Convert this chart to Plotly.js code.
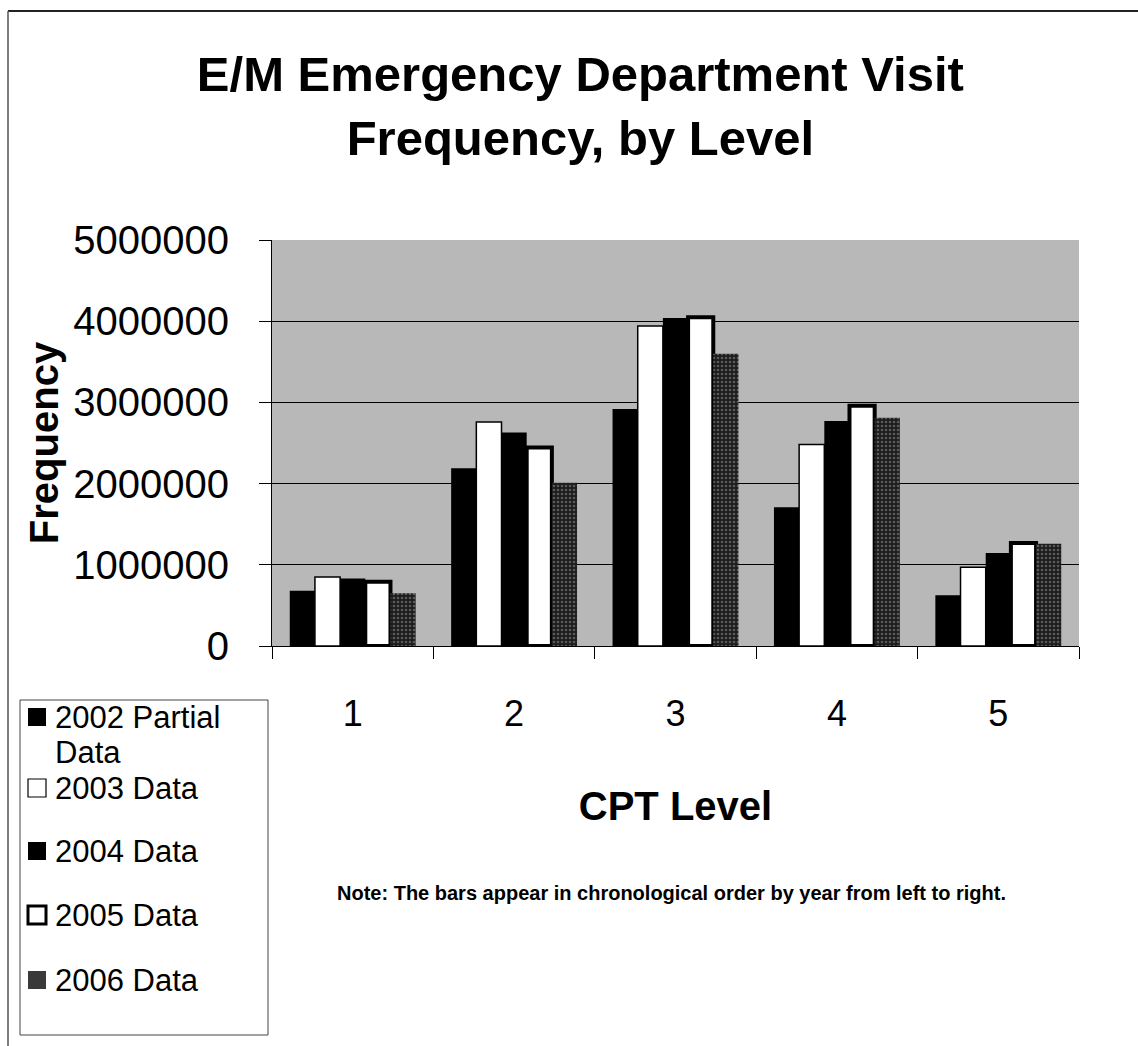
<!DOCTYPE html>
<html>
<head>
<meta charset="utf-8">
<script src="https://cdn.plot.ly/plotly-3.0.1.min.js"></script>
<style>
  html, body { margin: 0; padding: 0; background: #ffffff; }
  #chart { width: 1138px; height: 1046px; }
</style>
</head>
<body>
<div id="chart"></div>
<script>
// ---- data ----
const categories = ['1', '2', '3', '4', '5'];
const seriesNames = ['2002 Partial<br>Data', '2003 Data', '2004 Data', '2005 Data', '2006 Data'];
const data2002 = [680000, 2190000, 2920000, 1710000, 626000];
const data2003 = [850000, 2760000, 3940000, 2480000, 970000];
const data2004 = [830000, 2630000, 4040000, 2770000, 1145000];
const data2005 = [790000, 2445000, 4050000, 2960000, 1270000];
const data2006 = [650000, 2010000, 3600000, 2810000, 1260000];
const yTickVals = [0, 1000000, 2000000, 3000000, 4000000, 5000000];
const yTickText = ['0', '1000000', '2000000', '3000000', '4000000', '5000000'];

// ---- styling ----
const FONT = 'Liberation Sans, Arial, Helvetica, sans-serif';
const W = 1138, H = 1046;
const M = { l: 272, r: 59, t: 240, b: 400 };
const PW = W - M.l - M.r, PH = H - M.t - M.b;
const px = x => (x - M.l) / PW;
const py = y => (H - M.b - y) / PH;

const styles = [
  { color: '#000000', line: { color: '#000000', width: 0 } },
  { color: '#ffffff', line: { color: '#000000', width: 1.5 } },
  { color: '#000000', line: { color: '#000000', width: 0 } },
  { color: '#ffffff', line: { color: '#000000', width: 4 } },
  { color: '#202020', line: { color: '#202020', width: 0 },
    pattern: { shape: '.', fgcolor: '#5a5a5a', bgcolor: '#1c1c1c', size: 4, solidity: 0.35 } }
];
const values = [data2002, data2003, data2004, data2005, data2006];

const traces = values.map((v, i) => ({
  type: 'bar',
  x: categories,
  y: v,
  name: seriesNames[i],
  marker: styles[i],
  showlegend: false,
  hoverinfo: 'x+y+name'
}));

// manual legend (box + swatches + labels)
const shapes = [
  // outer page frame (top and left)
  { type: 'line', xref: 'paper', yref: 'paper', x0: px(8), x1: px(1138), y0: py(11), y1: py(11),
    line: { color: '#222', width: 2 } },
  { type: 'line', xref: 'paper', yref: 'paper', x0: px(8), x1: px(8), y0: py(11), y1: py(1046),
    line: { color: '#555', width: 1.5 } },
  // legend box
  { type: 'rect', xref: 'paper', yref: 'paper', x0: px(20), x1: px(268), y0: py(700), y1: py(1035),
    line: { color: '#444', width: 1 }, fillcolor: 'rgba(255,255,255,0)' }
];
const legendY = [717, 788, 851, 915, 980];
const annotations = [];
legendY.forEach((yy, i) => {
  const st = styles[i];
  const sw = (i === 3) ? 3 : (i === 1 ? 1.2 : 0);
  shapes.push({
    type: 'rect', xref: 'paper', yref: 'paper',
    x0: px(28), x1: px(46), y0: py(yy - 9), y1: py(yy + 9),
    fillcolor: i === 4 ? '#3a3a3a' : st.color,
    line: { color: '#000', width: sw }
  });
  seriesNames[i].split('<br>').forEach((line, k) => {
    annotations.push({
      xref: 'paper', yref: 'paper', x: px(53), y: py(yy + k * 35), xanchor: 'left', yanchor: 'middle',
      text: line, showarrow: false, align: 'left', valign: 'middle', height: 30,
      font: { family: FONT, size: 31, color: '#000' }
    });
  });
});
annotations.push({
  xref: 'paper', yref: 'paper', x: px(671), y: py(893), xanchor: 'center', yanchor: 'middle',
  text: '<b>Note: The bars appear in chronological order by year from left to right.</b>',
  showarrow: false, font: { family: FONT, size: 20, color: '#000' }
});

const layout = {
  width: W, height: H,
  margin: M,
  paper_bgcolor: '#ffffff',
  plot_bgcolor: '#b8b8b8',
  font: { family: FONT, color: '#000' },
  title: {
    text: '<b>E/M Emergency Department Visit<br>Frequency, by Level</b>',
    font: { family: FONT, size: 49, color: '#000' },
    x: 0.51, xanchor: 'center', yref: 'container', y: 1 - 91 / H, yanchor: 'middle'
  },
  barmode: 'group',
  bargap: 0.22,
  bargroupgap: 0,
  xaxis: {
    type: 'category',
    showline: true, linecolor: '#000', linewidth: 1,
    ticks: 'outside', tickson: 'boundaries', ticklen: 12, tickcolor: '#000',
    ticklabelstandoff: 36,
    tickfont: { family: FONT, size: 36, color: '#000' },
    showgrid: false,
    title: { text: '<b>CPT Level</b>', font: { family: FONT, size: 40, color: '#000' }, standoff: 58 }
  },
  yaxis: {
    range: [0, 5000000],
    tickvals: yTickVals, ticktext: yTickText,
    showline: true, linecolor: '#000', linewidth: 1,
    ticks: 'outside', ticklen: 12, tickcolor: '#000',
    ticklabelstandoff: 22,
    tickfont: { family: FONT, size: 40, color: '#000' },
    showgrid: true, gridcolor: '#000', gridwidth: 1,
    zeroline: false,
    title: { text: '<b>Frequency</b>', font: { family: FONT, size: 40, color: '#000' }, standoff: 2 }
  },
  shapes: shapes,
  annotations: annotations
};

Plotly.newPlot('chart', traces, layout, { displayModeBar: false, staticPlot: true });
</script>
</body>
</html>
